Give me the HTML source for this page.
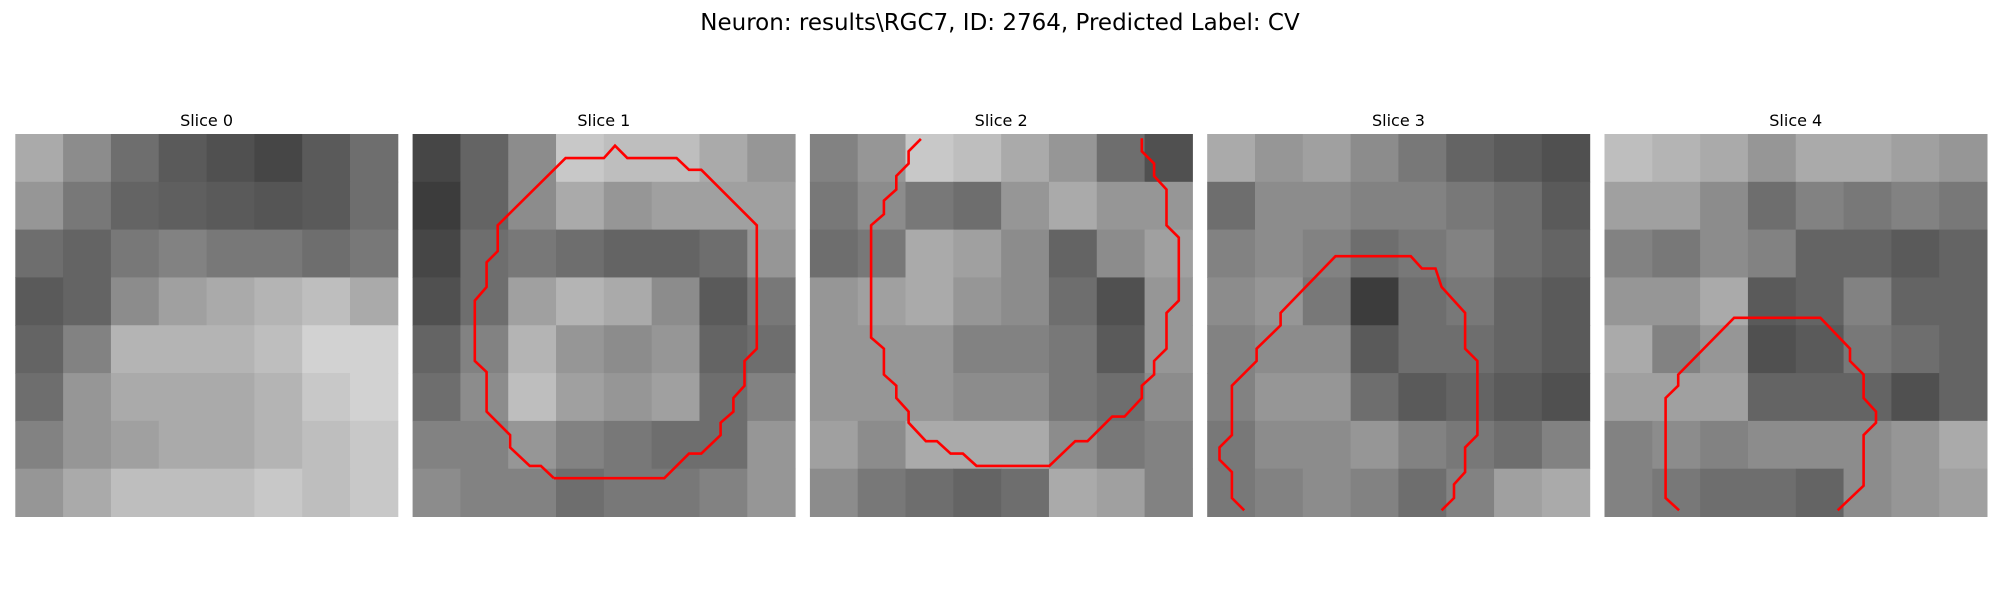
<!DOCTYPE html>
<html><head><meta charset="utf-8"><style>
body{margin:0;background:#fff;width:2000px;height:600px;overflow:hidden;font-family:"Liberation Sans","DejaVu Sans",sans-serif}
</style></head><body>
<svg id="fig" width="2000" height="600" xmlns="http://www.w3.org/2000/svg">
<text x="1000" y="30" text-anchor="middle" font-size="23" font-family="DejaVu Sans, Liberation Sans, sans-serif" fill="#000">Neuron: results\RGC7, ID: 2764, Predicted Label: CV</text>
</svg>
<script>
const sliceTitles=["Slice 0","Slice 1","Slice 2","Slice 3","Slice 4"];
const grid0=[[170,140,110,90,80,70,90,110],[150,120,100,95,90,85,90,110],[110,100,120,130,120,120,110,120],[90,100,140,160,170,180,190,170],[100,130,180,180,180,190,210,210],[110,150,170,170,170,180,200,210],[130,150,160,170,170,180,190,200],[150,170,190,190,190,200,190,200]];
const grid1=[[70,100,140,200,190,190,170,150],[60,100,140,170,150,160,160,160],[70,110,120,110,100,100,110,150],[80,110,160,180,170,140,90,120],[100,130,180,150,140,150,100,110],[110,140,190,160,150,160,110,130],[130,130,150,130,120,110,110,150],[140,130,130,110,120,120,130,150]];
const grid2=[[130,150,200,190,170,150,110,80],[120,140,120,110,150,170,150,150],[110,120,170,160,140,100,140,160],[150,160,170,150,140,110,80,150],[150,150,150,130,130,120,90,150],[150,150,150,140,140,120,110,140],[160,140,170,170,170,140,120,130],[140,120,110,100,110,170,160,130]];
const grid3=[[170,150,160,140,120,100,90,80],[110,140,140,130,130,120,110,90],[130,140,130,110,120,130,110,100],[140,150,120,60,110,120,100,90],[130,140,140,90,110,110,100,90],[130,150,150,110,90,100,90,80],[120,140,140,150,130,120,110,130],[120,130,140,130,110,130,160,170]];
const grid4=[[190,180,170,150,170,170,160,150],[160,160,140,110,130,120,130,120],[130,120,140,130,100,100,90,100],[150,150,170,90,100,130,100,100],[170,130,150,80,90,120,110,100],[160,160,160,100,100,100,80,100],[130,140,130,140,140,140,150,170],[130,120,110,110,100,140,150,160]];
const contour1=[[11.45,27.9],[20.4,27.9],[22.4,25.9],[23.4,25.9],[24.96,24.4],[24.96,23.4],[26,22.5],[26,21.4],[26.9,20.4],[26.9,18.4],[27.9,17.4],[27.9,7.4],[23.4,2.9],[22.4,2.9],[21.4,1.95],[17.4,1.95],[16.4,0.95],[15.5,1.95],[12.4,1.95],[6.9,7.4],[6.9,9.5],[6,10.4],[6,12.4],[5.04,13.5],[5.04,18.4],[6,19.3],[6,22.5],[7.9,24.4],[7.9,25.4],[9.5,26.9],[10.4,26.9],[11.45,27.9]];
const contour2=[[9,0.4],[8,1.4],[8,2.4],[7,3.4],[7,4.5],[6,5.4],[6,6.5],[4.96,7.4],[4.96,16.5],[6,17.4],[6,19.5],[7,20.4],[7,21.4],[8,22.5],[8,23.4],[9.4,24.9],[10.3,24.9],[11.4,25.9],[12.4,25.9],[13.5,26.9],[19.4,26.9],[21.5,24.9],[22.5,24.9],[24.5,22.9],[25.5,22.9],[26.9,21.4],[26.9,20.4],[27.9,19.5],[27.9,18.4],[28.9,17.4],[28.9,14.5],[29.9,13.5],[29.9,8.4],[28.9,7.4],[28.9,4.5],[27.9,3.4],[27.9,2.4],[26.9,1.4],[26.9,0.35]];
const contour3=[[3,30.5],[2,29.5],[2,27.4],[1,26.4],[1,25.4],[2,24.4],[2,20.4],[4,18.4],[4,17.4],[5.95,15.5],[5.95,14.5],[10.4,9.9],[16.5,9.9],[17.4,10.9],[18.5,10.9],[19,12.4],[20.9,14.5],[20.9,17.4],[21.9,18.4],[21.9,24.4],[20.9,25.4],[20.9,27.4],[20,28.4],[20,29.5],[19,30.5]];
const contour4=[[6.05,30.5],[4.95,29.5],[4.95,21.4],[5.97,20.4],[5.97,19.5],[10.5,14.9],[17.5,14.9],[19.9,17.4],[19.9,18.4],[21,19.5],[21,21.4],[22,22.5],[22,23.4],[21,24.4],[21,28.5],[18.9,30.5]];
const grids=[grid0,grid1,grid2,grid3,grid4];
const contours=[null,contour1,contour2,contour3,contour4];

const NS="http://www.w3.org/2000/svg";
const svg=document.getElementById('fig');
const PW=382.5, TOP=134, GAP=397.3, LEFT0=15.3, NPIX=31;
function panelX(k){return LEFT0+k*GAP;}
function sx(k,c){return panelX(k)+c/NPIX*PW;}
function sy(r){return TOP+r/NPIX*PW;}
for(let k=0;k<5;k++){
  const g=document.createElementNS(NS,'g');
  
  
  svg.appendChild(g);
  const t=document.createElementNS(NS,'text');
  
  
  t.setAttribute('x',panelX(k)+PW/2);t.setAttribute('y',126);
  t.setAttribute('text-anchor','middle');t.setAttribute('font-size','16');
  t.setAttribute('font-family','DejaVu Sans, Liberation Sans, sans-serif');
  t.textContent=sliceTitles[k];g.appendChild(t);
  const grid=grids[k], n=grid.length, cw=PW/n;
  for(let r=0;r<n;r++)for(let c=0;c<n;c++){
    const v=grid[r][c];
    const rc=document.createElementNS(NS,'rect');
    
    
    rc.setAttribute('x',panelX(k)+c*cw);rc.setAttribute('y',TOP+r*cw);
    rc.setAttribute('width',cw+0.5);rc.setAttribute('height',cw+0.5);
    rc.setAttribute('fill','rgb('+v+','+v+','+v+')');
    g.appendChild(rc);
  }
  const ct=contours[k];
  if(ct){
    const p=document.createElementNS(NS,'polyline');
    
    
    p.setAttribute('points',ct.map(q=>sx(k,q[0]).toFixed(1)+','+sy(q[1]).toFixed(1)).join(' '));
    p.setAttribute('fill','none');p.setAttribute('stroke','#ff0000');p.setAttribute('stroke-width','2.6');
    g.appendChild(p);
  }
}
</script>
</body></html>
